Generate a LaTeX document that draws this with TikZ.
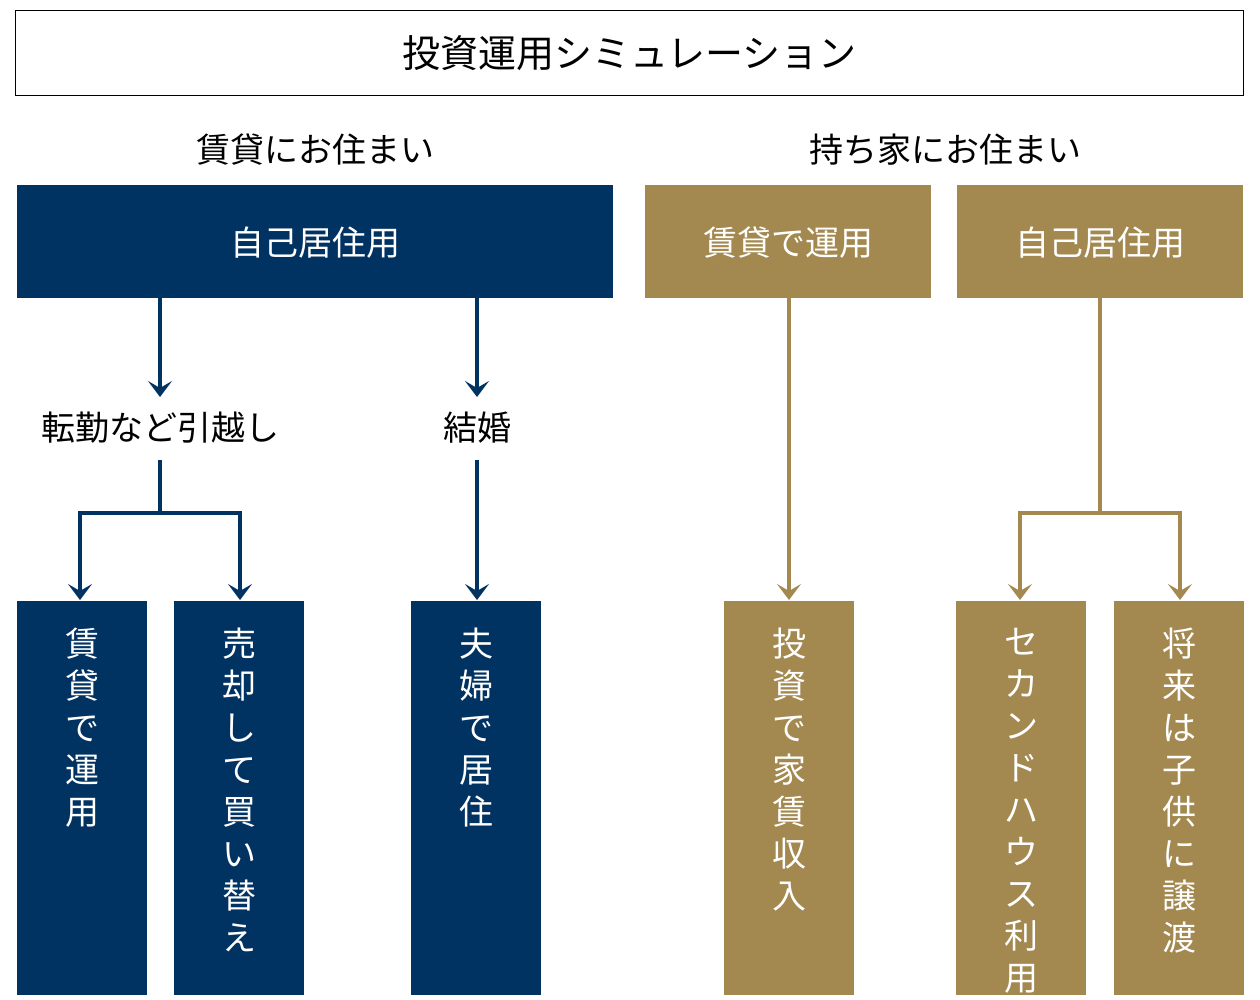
\documentclass[tikz,border=0pt]{standalone}
\usepackage{fontspec}
\setmainfont{Noto Sans CJK JP}
\usetikzlibrary{arrows.meta}
\definecolor{navy}{HTML}{003262}
\definecolor{gold}{HTML}{A3884F}
\begin{document}
\begin{tikzpicture}[x=1pt,y=-1pt,
 box/.style={draw=none,anchor=north west,inner sep=0pt},
 htxt/.style={font=\fontsize{34}{40}\selectfont},
 vtxt/.style={anchor=north,font=\fontsize{34}{42}\selectfont,align=center,text=white,inner sep=0pt},
 ln/.style={line width=3.5pt},
 arr/.style={ln,-{Stealth[length=16pt,width=24pt,inset=7pt]}}]
\useasboundingbox (0,0) rectangle (1260,1000);
\fill[white] (0,0) rectangle (1260,1000);
\node[draw=black,line width=1.2pt,minimum width=1228pt,minimum height=85pt,anchor=north west,font=\fontsize{38}{44}\selectfont] (title) at (15,10) {投資運用シミュレーション};
\node[htxt] (h1) at (315,150) {賃貸にお住まい};
\node[htxt] (h2) at (945,150) {持ち家にお住まい};
\fill[navy] (17,185) rectangle (613,298);
\node[htxt,text=white] (n1) at (315,243) {自己居住用};
\fill[gold] (645,185) rectangle (931,298);
\node[htxt,text=white] (g1) at (788,243) {賃貸で運用};
\fill[gold] (957,185) rectangle (1243,298);
\node[htxt,text=white] (g2) at (1100,243) {自己居住用};
\node[htxt] (m1) at (160,428) {転勤など引越し};
\node[htxt] (m2) at (477,428) {結婚};
% bottom boxes
\foreach \x/\c in {17/navy,174/navy,411/navy,724/gold,956/gold,1114/gold}{\fill[\c] (\x,601) rectangle ++(130,394);}
\node[vtxt] (b1) at (82,628) {賃\\貸\\で\\運\\用};
\node[vtxt] (b2) at (239,628) {売\\却\\し\\て\\買\\い\\替\\え};
\node[vtxt] (b3) at (476,628) {夫\\婦\\で\\居\\住};
\node[vtxt] (b4) at (789,628) {投\\資\\で\\家\\賃\\収\\入};
\node[vtxt] (b5) at (1021,628) {セ\\カ\\ン\\ド\\ハ\\ウ\\ス\\利\\用};
\node[vtxt] (b6) at (1179,628) {将\\来\\は\\子\\供\\に\\譲\\渡};
\coordinate (s1) at (160,298); \coordinate (e1) at (160,397);
\coordinate (s2) at (477,298); \coordinate (e2) at (477,397);
\draw[arr,navy] (s1)--(e1);
\draw[arr,navy] (s2)--(e2);
\coordinate (t1) at (160,460); \coordinate (t2) at (477,460);
\draw[ln,navy] (t1)--(160,513);
\draw[arr,navy] (160,513)-|(80,600);
\draw[arr,navy] (160,513)-|(240,600);
\draw[arr,navy] (t2)--(477,600);
\draw[arr,gold] (789,298)--(789,600);
\draw[ln,gold] (1100,298)--(1100,513);
\draw[arr,gold] (1100,513)-|(1020,600);
\draw[arr,gold] (1100,513)-|(1180,600);
\end{tikzpicture}
\end{document}
